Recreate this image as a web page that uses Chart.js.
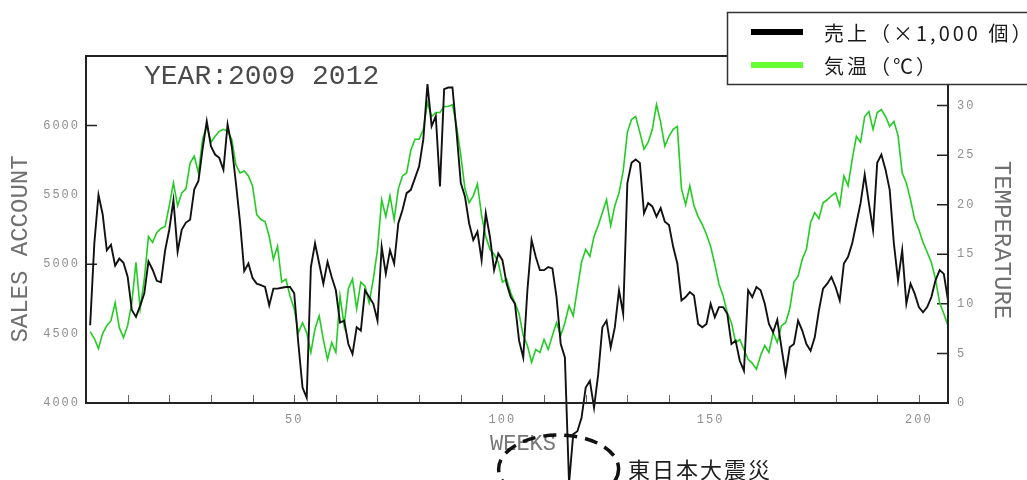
<!DOCTYPE html>
<html>
<head>
<meta charset="utf-8">
<script src="https://cdn.jsdelivr.net/npm/chart.js@4.4.1/dist/chart.umd.min.js"></script>
<style>
  html, body { margin: 0; padding: 0; background: #fff; overflow: hidden; }
  #wrap { width: 1027px; height: 480px; position: relative; }
</style>
</head>
<body>
<div id="wrap"><canvas id="c" width="1027" height="480"></canvas></div>
<script>
// Weekly sales (units) and mean air temperature, 2009-2012
const sales = [
  4560, 5150, 5500, 5360, 5100, 5140, 4990, 5040, 5010, 4910,
  4670, 4620, 4700, 4790, 5020, 4960, 4880, 4870, 5100, 5250,
  5460, 5090, 5250, 5300, 5320, 5540, 5600, 5830, 6030, 5850,
  5790, 5766, 5680, 6007, 5850, 5585, 5300, 4950, 5005, 4900,
  4860, 4850, 4836, 4703, 4824, 4824, 4830, 4836, 4836, 4790,
  4425, 4111, 4038, 4980, 5150, 5005, 4860, 5017, 4908, 4812,
  4580, 4594, 4425, 4353, 4546, 4522, 4812, 4763, 4715, 4594,
  5125, 4932, 5101, 5005, 5295, 5391, 5512, 5536, 5620, 5705,
  5899, 6297, 5995, 6067, 5560, 6261, 6273, 6273, 5947, 5585,
  5488, 5295, 5174, 5234, 5029, 5367, 5198, 4957, 5077, 5029,
  4860, 4763, 4715, 4449, 4328, 4812, 5174, 5053, 4957, 4957,
  4980, 4970, 4763, 4425, 4328, 3420, 3775, 3797, 3893, 4111,
  4159, 3966, 4208, 4546, 4594, 4401, 4546, 4812, 4643, 5585,
  5730, 5754, 5730, 5367, 5440, 5416, 5343, 5404, 5306, 5283,
  5125, 5005, 4739, 4763, 4799, 4775, 4570, 4546, 4570, 4715,
  4618, 4691, 4691, 4643, 4425, 4449, 4304, 4232, 4812, 4763,
  4836, 4812, 4715, 4570, 4510, 4600, 4400, 4208, 4401, 4425,
  4594, 4522, 4425, 4377, 4473, 4667, 4824, 4860, 4908, 4836,
  4739, 5005, 5053, 5150, 5295, 5440, 5645, 5440, 5246, 5730,
  5790, 5681, 5536, 5150, 4884, 5101, 4715, 4860, 4788, 4691,
  4654, 4691, 4763, 4884, 4957, 4930, 4740
];

const temps = [
  7.2, 6.5, 5.5, 7.0, 7.8, 8.3, 10.1, 7.6, 6.6, 7.8,
  10.1, 14.2, 9.5, 12.5, 16.8, 16.2, 17.2, 17.6, 17.8, 19.9,
  22.2, 19.9, 21.2, 21.6, 24.2, 24.9, 23.2, 26.6, 27.9, 26.3,
  26.9, 27.4, 27.6, 27.4, 26.6, 24.0, 23.2, 23.4, 22.9, 21.9,
  19.0, 18.5, 18.3, 16.8, 14.5, 15.8, 12.2, 12.5, 10.8, 9.5,
  7.1, 8.1, 7.1, 5.1, 7.5, 8.8, 6.4, 4.4, 6.1, 5.1,
  10.8, 7.8, 11.5, 12.5, 9.5, 12.2, 11.8, 10.1, 12.5, 15.5,
  20.5, 18.8, 20.9, 18.5, 21.6, 22.9, 23.2, 25.5, 26.6, 26.6,
  27.6, 30.3, 28.9, 29.3, 29.3, 29.9, 29.9, 30.1, 27.9, 25.0,
  21.6, 20.2, 20.9, 22.1, 18.9, 16.8, 15.5, 15.0, 14.2, 12.2,
  12.5, 11.1, 10.1, 9.0, 6.8, 5.8, 4.1, 5.4, 5.1, 6.4,
  5.4, 6.8, 8.1, 6.8, 8.1, 9.8, 8.8, 11.5, 14.2, 15.5,
  14.8, 16.8, 17.9, 19.2, 20.5, 17.9, 19.9, 21.2, 23.4, 27.3,
  28.6, 28.9, 27.3, 25.6, 26.3, 27.6, 30.1, 28.3, 25.9, 26.9,
  27.6, 27.9, 21.6, 20.0, 21.9, 19.9, 18.8, 18.0, 17.0, 15.8,
  14.0, 12.0, 10.8, 9.1, 8.1, 6.1, 6.4, 5.4, 4.4, 4.0,
  3.4, 4.8, 5.8, 5.1, 7.1, 6.1, 7.8, 8.1, 9.5, 12.2,
  12.8, 14.5, 15.5, 18.2, 19.2, 18.6, 20.2, 20.5, 20.9, 21.2,
  19.9, 22.9, 21.9, 24.6, 26.9, 26.3, 28.9, 29.4, 27.6, 29.3,
  29.6, 28.9, 27.9, 28.4, 27.0, 23.2, 22.2, 20.5, 18.5, 17.5,
  16.2, 15.2, 14.2, 12.5, 10.1, 9.0, 7.8
];

// Week number of each observation
const weeks = sales.map((_, i) => i + 1);

// Axis settings
const weekTicks = [50, 100, 150, 200];
const salesRange = [4000, 6500];
const tempRange = [0, 35];

const seriesLabels = ['売上（×1,000 個）', '気温（℃）'];
const plotTitle = 'YEAR:2009 2012';
const axisTitles = { x: 'WEEKS', left: 'SALES ACCOUNT', right: 'TEMPERATURE' };
const eventLabel = '東日本大震災';
const eventWeek = 113.5;

const MONO = '"Liberation Mono", "DejaVu Sans Mono", monospace';
const JP = '"Noto Sans CJK JP", "Noto Sans", sans-serif';
const tickFont = { family: MONO, size: 12 };
const tickColor = '#8e8e8e';

const decor = {
  id: 'decor',
  beforeDraw(chart) {
    chart.ctx.letterSpacing = '2px';
  },
  beforeDatasetsDraw(chart) {
    const ctx = chart.ctx;
    ctx.letterSpacing = '0px';
    const a = chart.chartArea;
    const xs = chart.scales.x, yl = chart.scales.ySales, yr = chart.scales.yTemp;
    ctx.save();
    // inward tick marks
    ctx.strokeStyle = '#666';
    ctx.lineWidth = 1;
    ctx.beginPath();
    for (let v = 10; v <= 200; v += 10) {
      const px = Math.round(xs.getPixelForValue(v)) + 0.5;
      ctx.moveTo(px, a.bottom); ctx.lineTo(px, a.bottom - 8);
    }
    ctx.stroke();
    ctx.strokeStyle = '#222';
    ctx.lineWidth = 1.5;
    ctx.beginPath();
    yl.ticks.forEach(t => {
      if (t.value % 1000 === 0 && t.value > salesRange[0] && t.value < salesRange[1]) {
        const py = yl.getPixelForValue(t.value);
        ctx.moveTo(a.left, py); ctx.lineTo(a.left + 11, py);
      }
    });
    yr.ticks.forEach(t => {
      if (t.value > tempRange[0] && t.value < tempRange[1]) {
        const py = yr.getPixelForValue(t.value);
        ctx.moveTo(a.right, py); ctx.lineTo(a.right - 11, py);
      }
    });
    ctx.stroke();

    // titles
    ctx.fillStyle = '#4a4a4a';
    ctx.font = '28px ' + MONO;
    ctx.textAlign = 'left';
    ctx.textBaseline = 'middle';
    ctx.fillText(plotTitle, 144, 77);

    ctx.fillStyle = '#707070';
    ctx.font = '24px ' + MONO;
    ctx.textAlign = 'center';
    ctx.save();
    ctx.translate(21, 249);
    ctx.rotate(-Math.PI / 2);
    ctx.fillText(axisTitles.left, 0, 0);
    ctx.restore();
    ctx.save();
    ctx.translate(1001, 240);
    ctx.rotate(Math.PI / 2);
    ctx.fillText(axisTitles.right, 0, 0);
    ctx.restore();
    ctx.fillStyle = '#777';
    ctx.font = '22px ' + MONO;
    ctx.fillText(axisTitles.x, 523, 444);
    ctx.restore();
  },
  afterDraw(chart) {
    const ctx = chart.ctx;
    const a = chart.chartArea;
    const xs = chart.scales.x;
    ctx.save();
    // plot frame
    ctx.strokeStyle = '#222';
    ctx.lineWidth = 2;
    ctx.strokeRect(a.left, a.top, a.right - a.left, a.bottom - a.top);

    // event marker
    const cx = xs.getPixelForValue(eventWeek);
    ctx.setLineDash([13, 8]);
    ctx.lineWidth = 3.5;
    ctx.strokeStyle = '#111';
    ctx.beginPath();
    ctx.ellipse(cx, 469, 60, 34, 0, 0, Math.PI * 2);
    ctx.stroke();
    ctx.setLineDash([]);
    ctx.fillStyle = '#1e1e1e';
    ctx.font = '22px ' + JP;
    ctx.textAlign = 'left';
    ctx.textBaseline = 'middle';
    ctx.letterSpacing = '2px';
    ctx.fillText(eventLabel, 628, 470);

    // legend
    ctx.fillStyle = '#fff';
    ctx.fillRect(727, 12, 320, 72);
    ctx.strokeStyle = '#333';
    ctx.lineWidth = 1.5;
    ctx.strokeRect(727.5, 12.5, 320, 72);
    const ds = chart.data.datasets;
    const rows = [32, 65];
    const swatch = ['#000', '#66ff33'];
    ctx.letterSpacing = '3px';
    ds.forEach((d, i) => {
      ctx.strokeStyle = swatch[i];
      ctx.lineWidth = 6;
      ctx.beginPath();
      ctx.moveTo(751, rows[i]); ctx.lineTo(803, rows[i]);
      ctx.stroke();
      ctx.fillStyle = '#1a1a1a';
      ctx.font = '20px ' + JP;
      ctx.fillText(d.label, 824, rows[i] + 1);
    });
    ctx.letterSpacing = '0px';
    ctx.restore();
  }
};

new Chart(document.getElementById('c'), {
  type: 'line',
  data: {
    datasets: [
      {
        label: seriesLabels[0],
        data: sales.map((v, i) => ({ x: weeks[i], y: v })),
        yAxisID: 'ySales',
        borderColor: '#111',
        borderWidth: 1.9,
        pointRadius: 0,
        tension: 0,
        clip: false,
        order: 0
      },
      {
        label: seriesLabels[1],
        data: temps.map((v, i) => ({ x: weeks[i], y: v })),
        yAxisID: 'yTemp',
        borderColor: '#22cc22',
        borderWidth: 1.6,
        pointRadius: 0,
        tension: 0,
        clip: false,
        order: 1
      }
    ]
  },
  options: {
    responsive: false,
    animation: false,
    events: [],
    layout: { padding: { top: 56, left: 0, right: 0, bottom: 0 } },
    plugins: { legend: { display: false }, tooltip: { enabled: false } },
    scales: {
      x: {
        type: 'linear',
        position: 'bottom',
        min: 0,
        max: 207,
        grid: { display: false, drawTicks: false },
        border: { display: false },
        ticks: {
          stepSize: 10,
          includeBounds: false,
          autoSkip: false,
          maxRotation: 0,
          padding: 10,
          color: tickColor,
          font: tickFont,
          callback: v => weekTicks.includes(v) ? String(v) : ''
        },
        afterFit: s => { s.height = 77; }
      },
      ySales: {
        type: 'linear',
        position: 'left',
        min: salesRange[0],
        max: salesRange[1],
        grid: { display: false, drawTicks: false },
        border: { display: false },
        ticks: {
          stepSize: 500,
          padding: 6,
          color: tickColor,
          font: tickFont,
          callback: v => v < salesRange[1] ? String(v) : ''
        },
        afterFit: s => { s.width = 86; }
      },
      yTemp: {
        type: 'linear',
        position: 'right',
        min: tempRange[0],
        max: tempRange[1],
        grid: { display: false, drawTicks: false },
        border: { display: false },
        ticks: {
          stepSize: 5,
          padding: 9,
          color: tickColor,
          font: tickFont,
          callback: v => v < tempRange[1] ? String(v) : ''
        },
        afterFit: s => { s.width = 79; }
      }
    }
  },
  plugins: [decor]
});
</script>
</body>
</html>
